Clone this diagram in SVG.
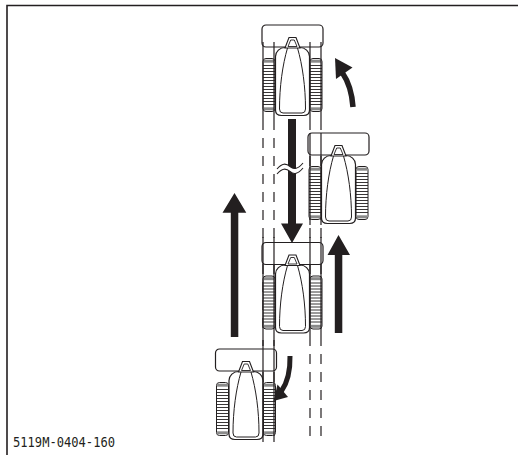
<svg xmlns="http://www.w3.org/2000/svg" xmlns:xlink="http://www.w3.org/1999/xlink" width="518" height="455" viewBox="0 0 518 455">
  <style>
    .ink { fill: none; stroke: #231f20; stroke-width: 1.1; }
    .solid { fill: #231f20; stroke: none; }
    .lane { fill: none; stroke: #231f20; stroke-width: 1.2; }
    .dash { stroke-dasharray: 10 8; }
    .frame { fill: none; stroke: #231f20; stroke-width: 1.6; }
    .code { font-family: "DejaVu Sans Mono", "Liberation Mono", monospace; font-size: 14px; fill: #231f20; }
  </style>
  <defs>
    <!-- tyre with tread bars, local origin at top-left -->
    <g id="wheel">
      <rect x="0" y="0" width="12" height="53" rx="3" fill="#fff" stroke="#231f20" stroke-width="1"/>
      <rect x="0.6" y="1.2" width="10.8" height="3" fill="#8a8a8a"/>
      <rect x="0.6" y="48.8" width="10.8" height="3" fill="#8a8a8a"/>
      <path d="M0,7h12M0,10h12M0,13h12M0,16h12M0,19h12M0,22h12M0,25h12M0,28h12M0,31h12M0,34h12M0,37h12M0,40h12M0,43h12M0,46h12" stroke="#231f20" stroke-width="0.9"/>
    </g>
    <!-- tractor seen from above, origin at top-centre of the implement -->
    <g id="tractor">
      <rect x="-30.5" y="0" width="61" height="22" rx="4" fill="#fff" stroke="#231f20" stroke-width="1.2"/>
      <use xlink:href="#wheel" x="-29.5" y="33.5"/>
      <use xlink:href="#wheel" x="17.5" y="33.5"/>
      <path d="M-7.5,22.5 L7.5,22.5 C12.5,22.5 17,26.5 17,31.5 L17,85 C17,88.5 14.5,90.5 11,90.5 L-11,90.5 C-14.5,90.5 -17,88.5 -17,85 L-17,31.5 C-17,26.5 -12.5,22.5 -7.5,22.5 Z" fill="#fff" stroke="#231f20" stroke-width="1.2"/>
      <path d="M-5,23 C-10,40 -13,62 -13,84 Q-13,88 -9.5,88 L9.5,88 Q13,88 13,84 C13,62 10,40 5,23" fill="none" stroke="#231f20" stroke-width="1"/>
      <path d="M-3.5,12.5 L3.5,12.5 L7.5,23 L-7.5,23 Z" fill="#fff" stroke="#231f20" stroke-width="1.1"/>
      <path d="M-1.8,15 L1.8,15 L4.5,21.5 L-4.5,21.5 Z" fill="none" stroke="#231f20" stroke-width="0.9"/>
    </g>
  </defs>

  <!-- frame -->
  <path class="frame" d="M7,455 V5.5 H518"/>

  <!-- driving lanes -->
  <g id="lanes">
    <path class="lane dash" d="M263,120 V442 M274,120 V442 M310,120 V442 M321,120 V442"/>
  </g>

  <g id="tractor-1"><use xlink:href="#tractor" x="292.5" y="25"/></g>
  <g id="tractor-2"><use xlink:href="#tractor" x="338.5" y="133"/></g>
  <g id="tractor-3"><use xlink:href="#tractor" x="292.5" y="242.5"/></g>
  <g id="tractor-4"><use xlink:href="#tractor" x="246" y="349"/></g>

  <!-- lane edges running through the tractors -->
  <g id="lane-edges">
    <path class="lane" d="M263,42 V120 M274,42 V120 M310,42 V120 M321,42 V120"/>
    <path class="lane" d="M310,133 V225 M321,133 V225"/>
    <path class="lane" d="M263,237 V336 M274,237 V336 M310,237 V336 M321,237 V336"/>
    <path class="lane" d="M263,340 V442 M274,340 V442"/>
  </g>

  <!-- travel arrows -->
  <g id="connectors">
    <!-- long straight arrows -->
    <path class="solid" d="M288,119 H296 V223.5 H303 L292,243 L281,223.5 H288 Z"/>
    <path class="solid" d="M230.8,337 V212.8 H222.5 L234.5,193 L246.3,212.8 H238.3 V337 Z"/>
    <path class="solid" d="M334.8,333 V255 H327.5 L338.5,235 L350,255 H342.3 V333 Z"/>
    <!-- break mark on the long arrow -->
    <path d="M277,169 C282,163 286,163 290,166.5 C294,170 298,169 303,163 L303,168 C298,174 294,175 290,171.5 C286,168 282,168 277,174 Z" fill="#fff" stroke="none"/>
    <path class="ink" d="M277,169 C282,163 286,163 290,166.5 C294,170 298,169 303,163"/>
    <path class="ink" d="M277,174 C282,168 286,168 290,171.5 C294,175 298,174 303,168"/>
    <!-- turning arrows -->
    <path d="M353,107 Q351.5,86 342.5,73" fill="none" stroke="#231f20" stroke-width="5.5"/>
    <path class="solid" d="M335,58 L352.5,67.5 L336,79 Z"/>
    <path d="M290,356 Q290.5,378 281.5,391" fill="none" stroke="#231f20" stroke-width="5"/>
    <path class="solid" d="M273.5,401 L277.5,384.5 L288,397 Z"/>
  </g>

  <text class="code" x="13" y="447" textLength="102" lengthAdjust="spacingAndGlyphs">5119M-0404-160</text>
</svg>
